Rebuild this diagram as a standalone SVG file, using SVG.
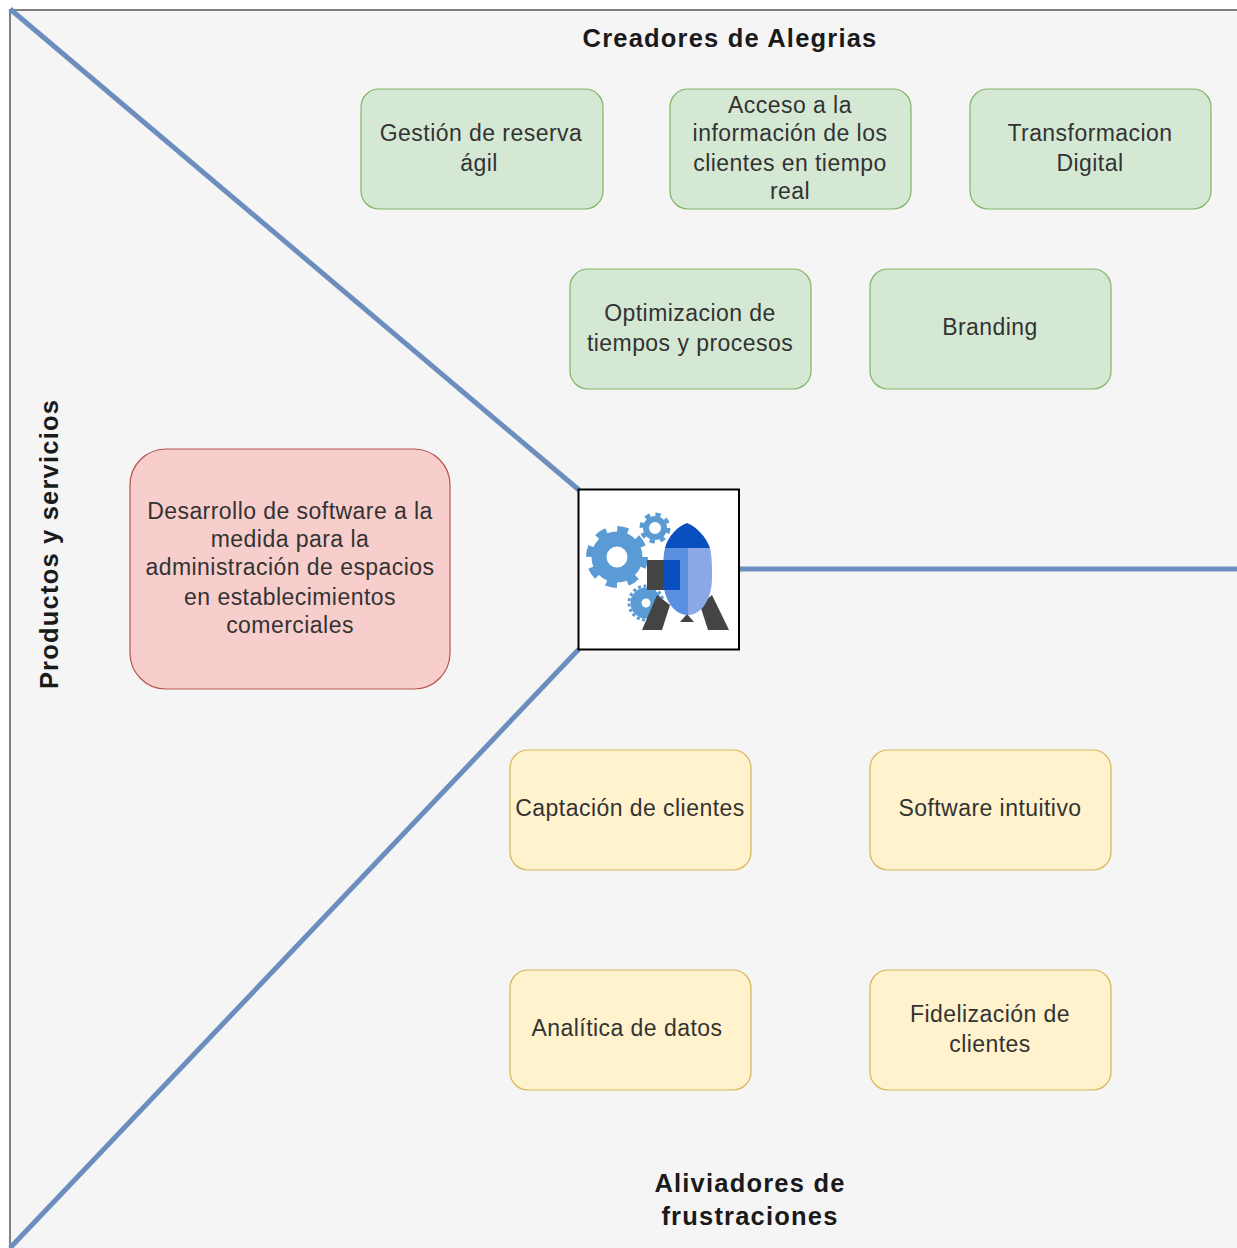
<svg xmlns="http://www.w3.org/2000/svg" width="1237" height="1248" viewBox="0 0 1237 1248">
<style>
text{font-family:"Liberation Sans",Arial,sans-serif;font-size:23px;letter-spacing:.45px;fill:#333;text-anchor:middle}
text.h{font-weight:700;font-size:25.500px;fill:#1a1a1a;letter-spacing:1.200px}
.g{fill:#d5e8d4;stroke:#82b366;stroke-width:1.2}
.y{fill:#fff2cc;stroke:#d6b656;stroke-width:1.2}
.r{fill:#f8cecc;stroke:#b85450;stroke-width:1.2}
.c{fill:none;stroke:#6c8ebf;stroke-width:5}
</style>
<rect width="1237" height="1248" fill="#fff"/>
<path d="M10 1248V10H1237V1248Z" fill="#f5f5f5"/>
<path d="M10 1248V10H1237" fill="none" stroke="#808080" stroke-width="2"/>
<g id="connectors">
<path class="c" d="M10 9L579 490"/>
<path class="c" d="M10 1248L579 649"/>
<path class="c" d="M739 569H1237"/>
</g>
<g id="title-alegrias"><text class="h" x="730" y="47">Creadores de Alegrias</text></g>
<g id="title-productos"><text class="h" transform="translate(58 544) rotate(-90)">Productos y servicios</text></g>
<g id="title-aliviadores"><text class="h" x="750" y="1192">Aliviadores de</text><text class="h" x="750" y="1225">frustraciones</text></g>
<g id="n1"><rect class="g" x="361" y="89" width="242" height="120" rx="18"/><text x="481" y="141">Gestión de reserva</text><text x="479" y="171">ágil</text></g>
<g id="n2"><rect class="g" x="670" y="89" width="241" height="120" rx="18"/><text x="790" y="113">Acceso a la</text><text x="790" y="141">información de los</text><text x="790" y="171">clientes en tiempo</text><text x="790" y="199">real</text></g>
<g id="n3"><rect class="g" x="970" y="89" width="241" height="120" rx="18"/><text x="1090" y="141">Transformacion</text><text x="1090" y="171">Digital</text></g>
<g id="n4"><rect class="g" x="570" y="269" width="241" height="120" rx="18"/><text x="690" y="321">Optimizacion de</text><text x="690" y="351">tiempos y procesos</text></g>
<g id="n5"><rect class="g" x="870" y="269" width="241" height="120" rx="18"/><text x="990" y="335">Branding</text></g>
<g id="n6"><rect class="r" x="130" y="449" width="320" height="240" rx="36"/><text x="290" y="519">Desarrollo de software a la</text><text x="290" y="547">medida para la</text><text x="290" y="575">administración de espacios</text><text x="290" y="605">en establecimientos</text><text x="290" y="633">comerciales</text></g>
<g id="n7"><rect class="y" x="510" y="750" width="241" height="120" rx="18"/><text x="630" y="816">Captación de clientes</text></g>
<g id="n8"><rect class="y" x="870" y="750" width="241" height="120" rx="18"/><text x="990" y="816">Software intuitivo</text></g>
<g id="n9"><rect class="y" x="510" y="970" width="241" height="120" rx="18"/><text x="627" y="1036">Analítica de datos</text></g>
<g id="n10"><rect class="y" x="870" y="970" width="241" height="120" rx="18"/><text x="990" y="1022">Fidelización de</text><text x="990" y="1052">clientes</text></g>
<g id="rocket">
<rect x="578.500" y="489.500" width="160.500" height="160" fill="#fff" stroke="#000" stroke-width="2"/>
<g fill="none" stroke="#5b9bd5">
<circle cx="617" cy="557" r="18" stroke-width="15"/>
<circle cx="617" cy="557" r="27.500" stroke-width="7" stroke-dasharray="10.800 10.800"/>
<circle cx="655" cy="528" r="9" stroke-width="6"/>
<circle cx="655" cy="528" r="13.500" stroke-width="4" stroke-dasharray="5.300 5.300"/>
<circle cx="646" cy="603" r="10" stroke-width="11"/>
<circle cx="646" cy="603" r="17" stroke-width="3" stroke-dasharray="3 2.500"/>
</g>
<path d="M647 560h18v30h-18Z" fill="#444"/>
<path d="M642 630L657 595L670 605L662 630Z" fill="#444"/>
<path d="M729 630L712 595L700 605L708 630Z" fill="#444"/>
<path d="M680 622l7-8 7 8Z" fill="#444"/>
<path d="M688 548H665c-2 8-2 20-2 30 0 20 10 37 25 37Z" fill="#5b8fe0"/>
<path d="M688 548h22c2 8 2 20 2 30 0 20-10 37-24 37Z" fill="#8aa9e6"/>
<path d="M665 548c3-12 13-22 22-25 10 4 19 14 23 25Z" fill="#0a4fc0"/>
<path d="M663 560h17v30h-17Z" fill="#0a4fc0"/>
</g>
</svg>
